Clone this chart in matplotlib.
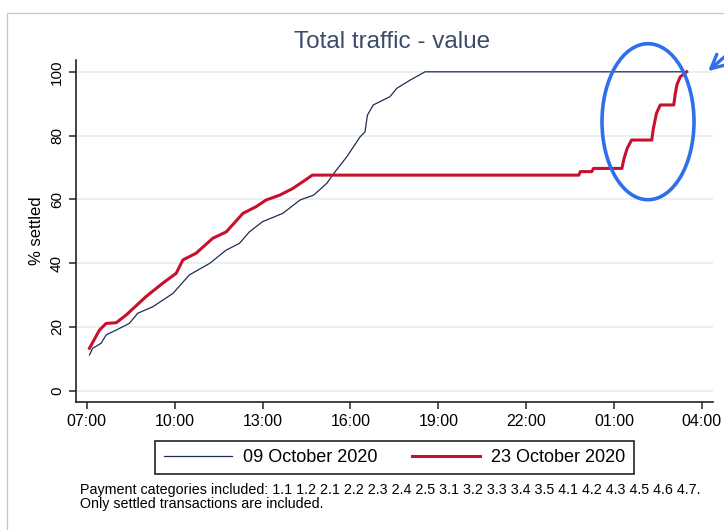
import matplotlib
matplotlib.use('Agg')
import matplotlib.pyplot as plt
from matplotlib.patches import Ellipse, Rectangle, FancyArrowPatch

plt.rcParams['font.family'] = ['Liberation Sans', 'DejaVu Sans']

# hours since midnight of the business day (values > 24 are the next morning)
oct09_t = [7.09, 7.20, 7.49, 7.66, 8.00, 8.45, 8.74, 9.25, 9.94, 10.50, 11.19, 11.76,
           12.21, 12.55, 13.00, 13.69, 14.28, 14.74, 15.19, 15.48, 15.88, 16.33, 16.50,
           16.58, 16.78, 17.35, 17.58, 18.04, 18.55, 27.48]
oct09_v = [11.2, 13.3, 14.9, 17.5, 19.0, 21.1, 24.3, 26.3, 30.5, 36.3, 39.9, 44.1,
           46.2, 49.8, 53.0, 55.6, 59.8, 61.3, 65.0, 68.7, 73.4, 79.6, 81.2,
           86.4, 89.6, 92.2, 94.8, 97.4, 100.0, 100.0]

oct23_t = [7.09, 7.43, 7.66, 8.00, 8.34, 9.02, 9.59, 10.05, 10.28, 10.73, 11.30, 11.76,
           12.33, 12.78, 13.12, 13.58, 14.03, 14.37, 14.70, 23.80, 23.85, 24.24, 24.30,
           25.27, 25.34, 25.45, 25.60, 26.29, 26.34, 26.45, 26.58, 27.04, 27.09, 27.15,
           27.26, 27.48]
oct23_v = [13.3, 19.0, 21.1, 21.3, 23.7, 29.5, 33.7, 36.8, 41.0, 43.1, 47.8, 49.8,
           55.6, 57.7, 59.8, 61.3, 63.4, 65.5, 67.6, 67.6, 68.7, 68.7, 69.7,
           69.7, 72.7, 76.0, 78.6, 78.6, 82.0, 87.0, 89.6, 89.6, 93.0, 96.0,
           98.4, 100.0]

xticks = [7, 10, 13, 16, 19, 22, 25, 28]
xlabels = ['07:00', '10:00', '13:00', '16:00', '19:00', '22:00', '01:00', '04:00']
yticks = [0, 20, 40, 60, 80, 100]

W, H = 724, 530
fig = plt.figure(figsize=(W / 100, H / 100), dpi=100)
ax = fig.add_axes([75.7 / W, 1 - 401.7 / H, (712.7 - 75.7) / W, (401.7 - 60) / H])

navy = '#1f2d55'
red = '#c8102e'

for y in yticks:
    ax.axhline(y, color='#e7eff1', lw=1.3, zorder=0)
ax.plot(oct09_t, oct09_v, color=navy, lw=0.9, label='09 October 2020')
ax.plot(oct23_t, oct23_v, color=red, lw=2.2, label='23 October 2020')

ax.set_xlim(6.62, 28.37)
ax.set_ylim(-3.45, 103.7)
ax.set_xticks(xticks)
ax.set_xticklabels(xlabels, fontsize=11.5)
ax.set_yticks(yticks)
ax.set_yticklabels([str(v) for v in yticks], fontsize=11, rotation=90, va='center')
ax.set_ylabel('% settled', fontsize=12, labelpad=4)
ax.tick_params(direction='out', length=5, width=1.1, color='#222222')
for s in ['top', 'right']:
    ax.spines[s].set_visible(False)
for s in ['left', 'bottom']:
    ax.spines[s].set_linewidth(1.2)
    ax.spines[s].set_color('#222222')

fig.text(392.5 / W, 1 - 42 / H, 'Total traffic - value', ha='center', va='center',
         fontsize=17.5, color='#3d4b6b')

leg = fig.legend(loc='center', bbox_to_anchor=(394.5 / W, 1 - 457.8 / H), ncol=2,
                 fontsize=13, handlelength=3.8, handletextpad=0.6, columnspacing=1.9,
                 fancybox=False, borderpad=0.45, framealpha=1)
leg.get_frame().set_edgecolor('#222222')
leg.get_frame().set_linewidth(1.2)

fig.text(80 / W, 1 - 483 / H,
         'Payment categories included: 1.1 1.2 2.1 2.2 2.3 2.4 2.5 3.1 3.2 3.3 3.4 3.5 '
         '4.1 4.2 4.3 4.5 4.6 4.7.\nOnly settled transactions are included.',
         ha='left', va='top', fontsize=10.3, linespacing=1.0)

# outer frame of the screenshot
fig.patches.append(Rectangle((6.5 / W, -0.1), 1.2, 1.1 - 12.9 / H, transform=fig.transFigure,
                             fill=False, edgecolor='#c8c8c8', lw=1.0))

# highlight ellipse and arrow
fig.patches.append(Ellipse((648 / W, 1 - 121.7 / H), 92 / W, 156 / H, transform=fig.transFigure,
                           fill=False, edgecolor='#2f6fec', lw=2.6))
fig.patches.append(FancyArrowPatch(
    (738 / W, 1 - 45 / H), (706 / W, 1 - 73 / H), transform=fig.transFigure,
    arrowstyle='->,head_length=10,head_width=5', color='#2f6fec', lw=2.4))

fig.savefig('out.png', dpi=100)
